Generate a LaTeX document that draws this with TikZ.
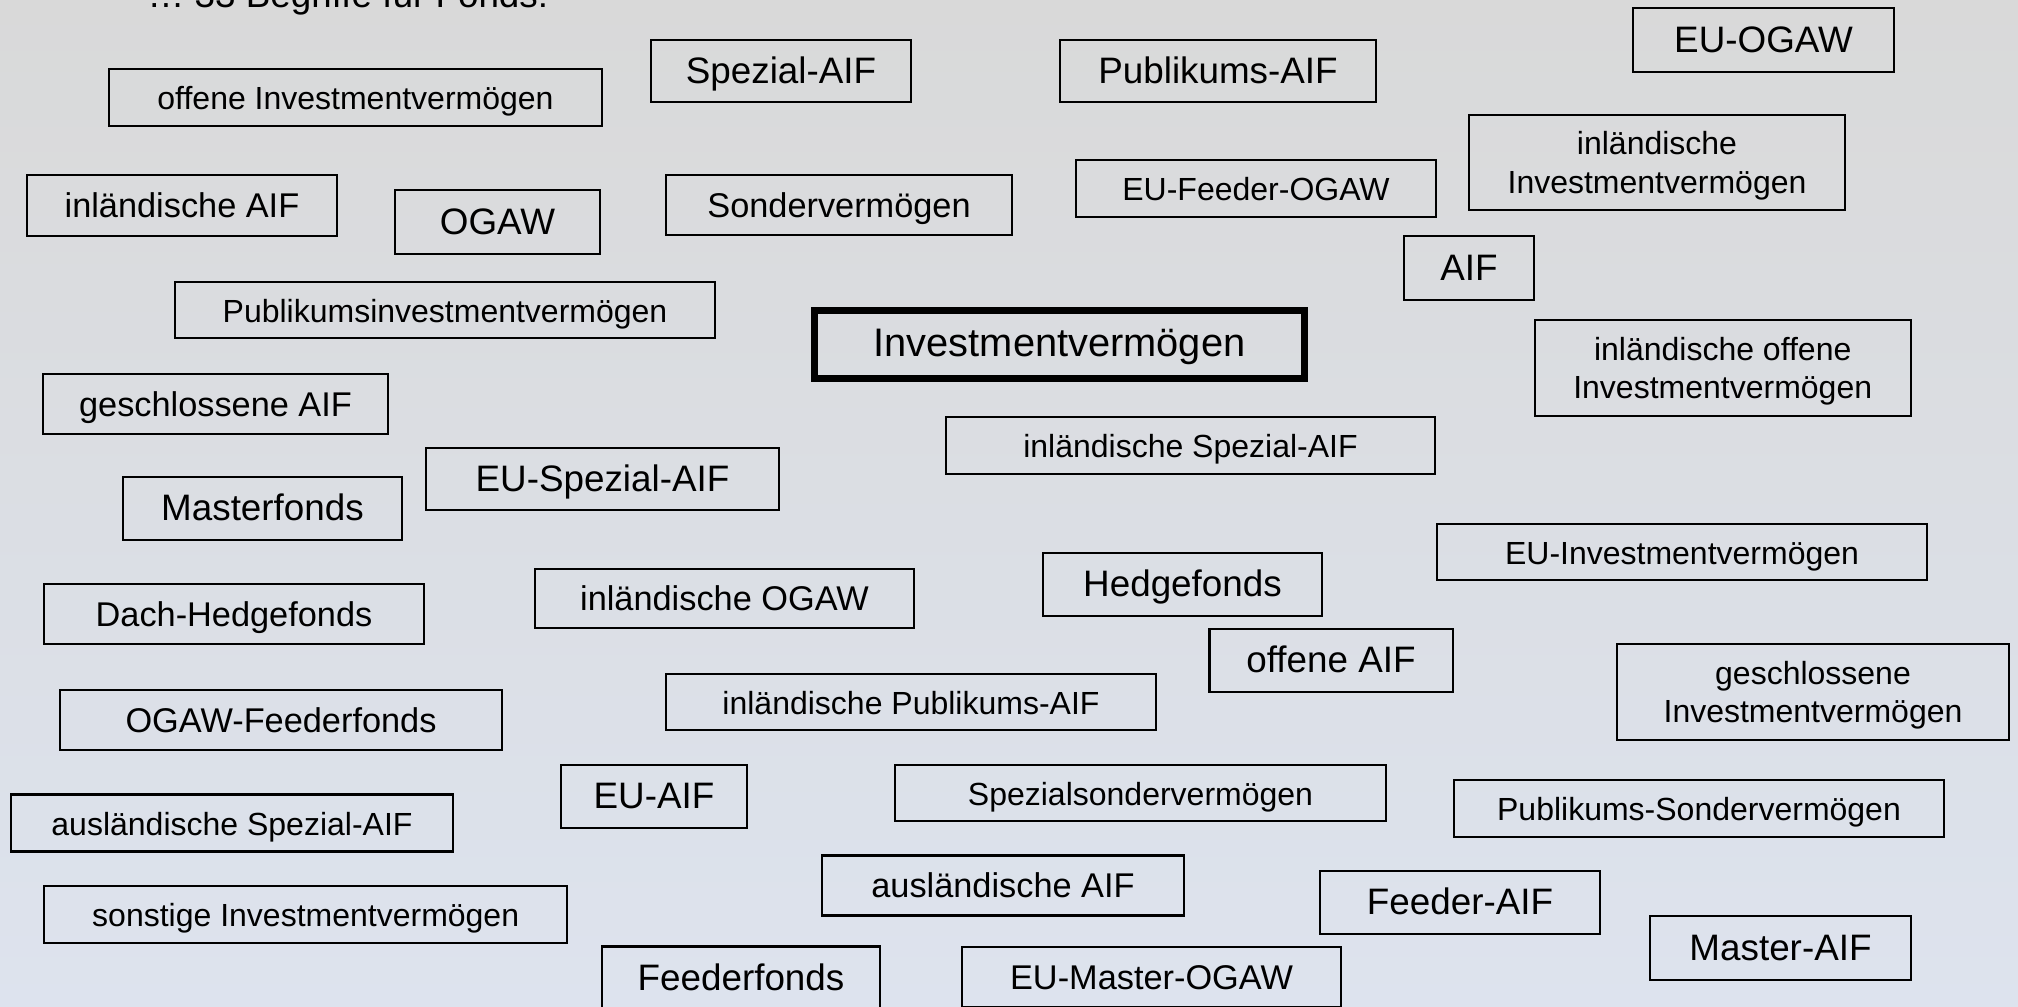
\documentclass[tikz,border=0pt]{standalone}
\usepackage{fontspec}
\setmainfont{Liberation Sans}
\usepackage{tikz}

\definecolor{hgoben}{RGB}{217,217,217}
\definecolor{hgunten}{RGB}{221,227,238}

\tikzset{
	kasten/.style={draw=black, line width=0.6pt, inner sep=0pt, align=center, text=black},
	zeile/.style={text height=0.92em, text depth=0.22em},
	klein/.style={kasten, zeile, font=\fontsize{9.1}{10.9}\selectfont},
	kleinzwei/.style={kasten, font=\fontsize{9.1}{10.9}\selectfont},
	mittel/.style={kasten, zeile, font=\fontsize{9.76}{11.7}\selectfont},
	gross/.style={kasten, zeile, font=\fontsize{10.47}{12.6}\selectfont},
	haupt/.style={kasten, zeile, line width=2pt, font=\fontsize{11.32}{13.6}\selectfont}
}
\newcommand{\oben}{\rule{0pt}{0.92em}}

\begin{document}
\begin{tikzpicture}[x=0.01cm, y=-0.01cm]
	
	%Hintergrund
	\useasboundingbox (0,0) rectangle (2018,1007);
	\clip (0,0) rectangle (2018,1007);
	\fill[top color=hgoben, bottom color=hgunten] (0,0) rectangle (2018,1007);
	
	%Ueberschrift (oben abgeschnitten)
	\node[anchor=base west, inner sep=0pt, font=\fontsize{10.47}{12.6}\selectfont] (titel) at (147,7.5) {… 33 Begriffe für Fonds:};
	
	%Begriffe, obere Reihen
	\node[klein, minimum width=4.92cm, minimum height=0.57cm] (offeneIV) at (355.5,97.5) {offene Investmentvermögen};
	\node[gross, minimum width=2.60cm, minimum height=0.62cm] (spezialAIF) at (781,71) {Spezial-AIF};
	\node[gross, minimum width=3.16cm, minimum height=0.62cm] (publikumsAIF) at (1218,71) {Publikums-AIF};
	\node[gross, minimum width=2.61cm, minimum height=0.64cm] (euOGAW) at (1763.5,40) {EU-OGAW};
	\node[mittel, minimum width=3.09cm, minimum height=0.61cm] (inlAIF) at (182,205.5) {inländische AIF};
	\node[gross, minimum width=2.05cm, minimum height=0.64cm] (ogaw) at (497.5,222) {OGAW};
	\node[mittel, minimum width=3.46cm, minimum height=0.60cm] (sonderverm) at (839,205) {Sondervermögen};
	\node[klein, minimum width=3.59cm, minimum height=0.57cm] (euFeederOGAW) at (1256,188.5) {EU-Feeder-OGAW};
	\node[kleinzwei, minimum width=3.75cm, minimum height=0.95cm] (inlIV) at (1657,162.5) {\oben inländische\\Investmentvermögen};
	\node[gross, minimum width=1.30cm, minimum height=0.64cm] (aif) at (1469,268) {AIF};
	\node[klein, minimum width=5.39cm, minimum height=0.56cm] (publikumsIV) at (445,310) {Publikumsinvestmentvermögen};
	
	%Mitte
	\node[haupt, minimum width=4.90cm, minimum height=0.68cm] (iv) at (1059.5,344.5) {Investmentvermögen};
	\node[kleinzwei, minimum width=3.76cm, minimum height=0.96cm] (inlOffeneIV) at (1722.7,368) {\oben inländische offene\\Investmentvermögen};
	\node[mittel, minimum width=3.45cm, minimum height=0.60cm] (geschlAIF) at (215.5,404) {geschlossene AIF};
	\node[klein, minimum width=4.89cm, minimum height=0.57cm] (inlSpezialAIF) at (1190.5,445.5) {inländische Spezial-AIF};
	\node[gross, minimum width=3.53cm, minimum height=0.62cm] (euSpezialAIF) at (602.5,479) {EU-Spezial-AIF};
	\node[gross, minimum width=2.79cm, minimum height=0.63cm] (masterfonds) at (262.5,508.5) {Masterfonds};
	\node[klein, minimum width=4.90cm, minimum height=0.56cm] (euIV) at (1682,552) {EU-Investmentvermögen};
	\node[gross, minimum width=2.79cm, minimum height=0.63cm] (hedgefonds) at (1182.5,584.5) {Hedgefonds};
	\node[mittel, minimum width=3.79cm, minimum height=0.59cm] (inlOGAW) at (724.5,598.5) {inländische OGAW};
	\node[mittel, minimum width=3.80cm, minimum height=0.60cm] (dachHedge) at (234,614) {Dach-Hedgefonds};
	\node[gross, minimum width=2.43cm, minimum height=0.63cm] (offeneAIF) at (1331,660.5) {offene AIF};
	\node[kleinzwei, minimum width=3.92cm, minimum height=0.96cm] (geschlIV) at (1813,692) {\oben geschlossene\\Investmentvermögen};
	\node[klein, minimum width=4.90cm, minimum height=0.56cm] (inlPublikumsAIF) at (911,702) {inländische Publikums-AIF};
	\node[mittel, minimum width=4.41cm, minimum height=0.60cm] (ogawFeeder) at (281,720) {OGAW-Feederfonds};
	
	%Begriffe, untere Reihen
	\node[gross, minimum width=1.86cm, minimum height=0.63cm] (euAIF) at (654,796.5) {EU-AIF};
	\node[klein, minimum width=4.91cm, minimum height=0.56cm] (spezialSV) at (1140.5,793) {Spezialsondervermögen};
	\node[klein, minimum width=4.90cm, minimum height=0.57cm] (publikumsSV) at (1699,808.5) {Publikums-Sondervermögen};
	\node[klein, minimum width=4.42cm, minimum height=0.57cm] (auslSpezialAIF) at (232,823) {ausländische Spezial-AIF};
	\node[mittel, minimum width=3.62cm, minimum height=0.60cm] (auslAIF) at (1003,885.5) {ausländische AIF};
	\node[gross, minimum width=2.80cm, minimum height=0.63cm] (feederAIF) at (1460,902.5) {Feeder-AIF};
	\node[klein, minimum width=5.23cm, minimum height=0.57cm] (sonstigeIV) at (305.7,914.5) {sonstige Investmentvermögen};
	\node[gross, minimum width=2.61cm, minimum height=0.64cm] (masterAIF) at (1780.5,948) {Master-AIF};
	\node[gross, minimum width=2.78cm, minimum height=0.63cm] (feederfonds) at (741,978) {Feederfonds}; %unten abgeschnitten
	\node[mittel, minimum width=3.79cm, minimum height=0.60cm] (euMasterOGAW) at (1151.5,977) {EU-Master-OGAW}; %unten abgeschnitten
	
\end{tikzpicture}
\end{document}
